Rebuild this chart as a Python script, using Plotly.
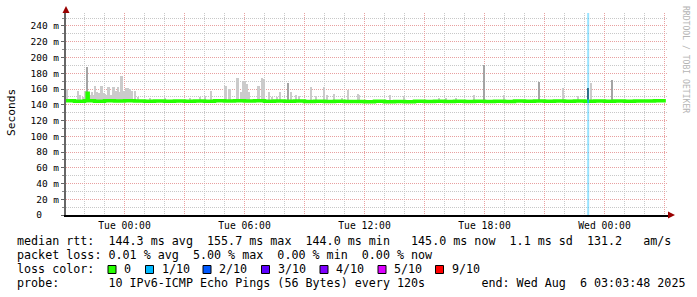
import plotly.graph_objects as go
import pandas as pd

# ---------------- data ----------------
DAY = {"Mon": "2025-08-04", "Tue": "2025-08-05", "Wed": "2025-08-06"}

median_time = ["Mon 21:04", "Mon 21:30", "Mon 22:00", "Mon 22:08", "Mon 22:11", "Mon 22:30",
               "Mon 23:00", "Mon 23:30", "Tue 00:00", "Tue 00:30", "Tue 01:00", "Tue 01:30",
               "Tue 02:00", "Tue 02:30", "Tue 03:00", "Tue 03:30", "Tue 04:00", "Tue 04:30",
               "Tue 05:00", "Tue 05:30", "Tue 06:00", "Tue 06:30", "Tue 07:00", "Tue 07:30",
               "Tue 08:00", "Tue 08:30", "Tue 09:00", "Tue 09:30", "Tue 10:00", "Tue 10:30",
               "Tue 11:00", "Tue 11:30", "Tue 12:00", "Tue 12:30", "Tue 13:00", "Tue 13:30",
               "Tue 14:00", "Tue 14:30", "Tue 15:00", "Tue 15:30", "Tue 16:00", "Tue 16:30",
               "Tue 17:00", "Tue 17:30", "Tue 18:00", "Tue 18:30", "Tue 19:00", "Tue 19:30",
               "Tue 20:00", "Tue 20:30", "Tue 21:00", "Tue 21:30", "Tue 22:00", "Tue 22:30",
               "Tue 23:00", "Tue 23:30", "Wed 00:00", "Wed 00:30", "Wed 01:00", "Wed 01:30",
               "Wed 02:00", "Wed 02:30", "Wed 03:00", "Wed 03:04"]
median_rtt = [145.0, 144.5, 145.0, 154.5, 145.0, 144.5,
              145.0, 144.6, 145.2, 144.6, 144.3, 144.8,
              144.3, 144.6, 144.4, 144.8, 144.5, 145.0,
              144.6, 145.2, 144.8, 145.0, 144.5, 144.8,
              144.3, 144.6, 144.2, 144.5, 144.0, 144.3,
              144.0, 144.2, 143.9, 144.3, 143.8, 144.2,
              143.9, 144.3, 144.0, 144.4, 144.0, 144.3,
              144.1, 144.5, 144.2, 144.4, 144.1, 144.6,
              144.3, 144.7, 144.4, 144.6, 144.3, 144.7,
              144.5, 144.8, 144.5, 144.9, 144.5, 144.8,
              144.6, 145.0, 145.0, 145.0]

smoke_time = ["Mon 21:08", "Mon 21:41", "Mon 21:47", "Mon 21:56", "Mon 22:02", "Mon 22:17",
              "Mon 22:23", "Mon 22:29", "Mon 22:32", "Mon 22:38", "Mon 22:44", "Mon 22:50",
              "Mon 22:53", "Mon 22:59", "Mon 23:02", "Mon 23:05", "Mon 23:11", "Mon 23:14",
              "Mon 23:20", "Mon 23:26", "Mon 23:29", "Mon 23:35", "Mon 23:41", "Mon 23:44",
              "Mon 23:50", "Mon 23:53", "Mon 23:59", "Tue 00:05", "Tue 00:11", "Tue 00:17",
              "Tue 00:23", "Tue 00:32", "Tue 00:41", "Tue 01:17", "Tue 02:02", "Tue 03:17",
              "Tue 03:47", "Tue 04:02", "Tue 04:20", "Tue 05:02", "Tue 05:05", "Tue 05:14",
              "Tue 05:17", "Tue 05:38", "Tue 05:41", "Tue 05:50", "Tue 05:53", "Tue 05:57",
              "Tue 06:00", "Tue 06:05", "Tue 06:08", "Tue 06:13", "Tue 06:41", "Tue 06:44",
              "Tue 06:53", "Tue 06:59", "Tue 07:13", "Tue 07:22", "Tue 07:38", "Tue 07:47",
              "Tue 08:20", "Tue 08:35", "Tue 08:44", "Tue 09:20", "Tue 09:35", "Tue 09:59",
              "Tue 10:08", "Tue 10:28", "Tue 10:53", "Tue 11:11", "Tue 11:41", "Tue 11:44",
              "Tue 13:16", "Tue 13:59", "Tue 15:44", "Tue 16:05", "Tue 16:35", "Tue 17:28",
              "Tue 18:58", "Tue 21:56", "Tue 22:41", "Tue 23:19"]
smoke_max = [160, 157, 152, 150, 158, 153,
             156, 152, 164, 156, 155, 164,
             164, 155, 154, 153, 163, 163,
             152, 163, 163, 157, 163, 156,
             176, 176, 158, 161, 161, 160,
             158, 157, 150, 148, 149, 148,
             150, 151, 157, 164, 164, 160,
             160, 174, 174, 156, 156, 170,
             170, 166, 166, 156, 164, 164,
             174, 172.7, 156, 150, 150, 156,
             156, 152, 151, 163, 151, 163,
             153, 154, 149, 158.7, 154, 153,
             153, 151, 148, 148, 148.6, 153,
             152, 161, 151, 168]

thin_time = ["Mon 22:08", "Tue 08:11", "Tue 17:59", "Tue 20:44", "Wed 00:23"]
thin_max = [188, 168, 190, 169, 171]

dark_time = ["Mon 22:06", "Mon 22:12", "Tue 23:09", "Tue 23:12"]
dark_lo = [144, 146, 144, 144]
dark_hi = [156, 154, 161, 161]

loss_time = ["Tue 23:11"]
loss_seg_time = ["Tue 23:09", "Tue 23:13"]
loss_seg_rtt = [144.5, 144.5]

y_ticks = [0, 20, 40, 60, 80, 100, 120, 140, 160, 180, 200, 220, 240]
y_ticktext = ["0\u00a0\u00a0\u00a0"] + [f"{v} m" for v in y_ticks[1:]]

x_label_times = ["Tue 00:00", "Tue 06:00", "Tue 12:00", "Tue 18:00", "Wed 00:00"]

legend_lines = [
    "median rtt:  144.3 ms avg  155.7 ms max  144.0 ms min   145.0 ms now  1.1 ms sd  131.2   am/s",
    "packet loss: 0.01 % avg  5.00 % max  0.00 % min  0.00 % now",
    "loss color:",
    "probe:       10 IPv6-ICMP Echo Pings (56 Bytes) every 120s        end: Wed Aug  6 03:03:48 2025",
]
loss_labels = ["0", "1/10", "2/10", "3/10", "4/10", "5/10", "9/10"]
loss_colors = ["#26ff00", "#00b8ff", "#0059ff", "#5e00ff", "#7e00ff", "#dd00ff", "#ff0000"]


def ts(s):
    d, hm = s.split()
    return pd.Timestamp(f"{DAY[d]} {hm}")


# ---------------- layout geometry ----------------
W, H = 697, 297
L, R, T, B = 66, 29, 13, 82
PW, PH = W - L - R, H - T - B


def px(x):
    return (x - L) / PW


def py(y):
    return (H - B - y) / PH


FONT = "DejaVu Sans Mono"
x_start = pd.Timestamp("2025-08-04 21:04:30")
x_end = pd.Timestamp("2025-08-06 03:10:30")

fig = go.Figure()

# smoke
fig.add_trace(go.Bar(
    x=[ts(t) for t in smoke_time], base=[144] * len(smoke_max),
    y=[m - 144 for m in smoke_max], width=7 * 60 * 1000,
    marker=dict(color="#cbcbcb", line=dict(width=0)), hoverinfo="skip"))
fig.add_trace(go.Bar(
    x=[ts(t) for t in thin_time], base=[144] * len(thin_max),
    y=[m - 144 for m in thin_max], width=3 * 60 * 1000,
    marker=dict(color="#a4a4a4", line=dict(width=0)), hoverinfo="skip"))
fig.add_trace(go.Bar(
    x=[ts(t) for t in dark_time], base=dark_lo,
    y=[h - l for h, l in zip(dark_hi, dark_lo)], width=3 * 60 * 1000,
    marker=dict(color="#4a4a4a", line=dict(width=0)), hoverinfo="skip"))

# median line
fig.add_trace(go.Scatter(
    x=[ts(t) for t in median_time], y=median_rtt, mode="lines",
    line=dict(color="#26ff00", width=3.5, shape="hv"), hoverinfo="skip"))
fig.add_trace(go.Scatter(
    x=[ts(t) for t in loss_seg_time], y=loss_seg_rtt, mode="lines",
    line=dict(color="#00b8ff", width=3.5), hoverinfo="skip"))

shapes = []
for t in loss_time:
    shapes.append(dict(type="line", xref="x", yref="paper", x0=ts(t), x1=ts(t), y0=0, y1=1,
                       line=dict(color="rgba(0,184,255,0.4)", width=2), layer="above"))

# arrows
ARROW = "#990000"
def tri(points):
    p = " L ".join(f"{px(a)} {py(b)}" for a, b in points)
    return "M " + p + " Z"
shapes.append(dict(type="path", xref="paper", yref="paper",
                   path=tri([(62.5, 13), (69.5, 13), (66, 6)]),
                   fillcolor=ARROW, line=dict(width=0)))
shapes.append(dict(type="path", xref="paper", yref="paper",
                   path=tri([(668, 211.5), (668, 218.5), (675, 215)]),
                   fillcolor=ARROW, line=dict(width=0)))

# loss colour boxes
box_x = [108, 145.5, 203, 261.5, 320, 378, 435.5]
annotations = []
for bx, lab, col in zip(box_x, loss_labels, loss_colors):
    shapes.append(dict(type="rect", xref="paper", yref="paper",
                       x0=px(bx), x1=px(bx + 8), y0=py(273.5), y1=py(265.5),
                       fillcolor=col, line=dict(color="#000000", width=1)))
    annotations.append(dict(xref="paper", yref="paper", x=px(bx + 14), y=py(269),
                            xanchor="left", yanchor="middle", showarrow=False,
                            text=lab, font=dict(family=FONT, size=11.7, color="#000")))

# legend text lines
for i, line in enumerate(legend_lines):
    annotations.append(dict(xref="paper", yref="paper", x=px(15), y=py(241 + 14 * i),
                            xanchor="left", yanchor="middle", showarrow=False,
                            text=line.replace(" ", "\u00a0"),
                            font=dict(family=FONT, size=11.7, color="#000")))

# axis title and watermark
annotations.append(dict(xref="paper", yref="paper", x=px(11), y=py(113),
                        xanchor="center", yanchor="middle", showarrow=False,
                        text="Seconds", textangle=-90,
                        font=dict(family=FONT, size=11.2, color="#000")))
annotations.append(dict(xref="paper", yref="paper", x=px(686), y=py(59),
                        xanchor="center", yanchor="middle", showarrow=False,
                        text="RRDTOOL / TOBI OETIKER", textangle=90,
                        font=dict(family=FONT, size=8.1, color="#b4b4b4")))

major_x = pd.date_range("2025-08-05 00:00", "2025-08-06 03:00", freq="3h")
minor_x = pd.date_range("2025-08-04 22:00", "2025-08-06 03:00", freq="1h")
labels_x = {ts(t): t for t in x_label_times}
major_text = [labels_x.get(t, "") for t in major_x]

MAJ = "#e8a0a0"
MIN = "#c8c8c8"
DASH = "1px,1px"

fig.update_layout(
    width=W, height=H, margin=dict(l=L, r=R, t=T, b=B, pad=0),
    paper_bgcolor="white", plot_bgcolor="white",
    showlegend=False, barmode="overlay", bargap=0,
    font=dict(family=FONT, color="#000"),
    shapes=shapes, annotations=annotations,
    xaxis=dict(
        type="date", range=[x_start, x_end], tickmode="array",
        tickvals=list(major_x), ticktext=major_text,
        showgrid=True, gridcolor=MAJ, griddash=DASH, gridwidth=1,
        minor=dict(tickmode="array", tickvals=list(minor_x), showgrid=True,
                   gridcolor=MIN, griddash=DASH, gridwidth=1),
        showline=True, linecolor="#000", linewidth=2,
        ticks="", tickfont=dict(family=FONT, size=9.7, color="#000"),
        zeroline=False, fixedrange=True),
    yaxis=dict(
        range=[0, 256.5], tickmode="array", tickvals=y_ticks, ticktext=y_ticktext,
        showgrid=True, gridcolor=MAJ, griddash=DASH, gridwidth=1,
        minor=dict(tickmode="linear", tick0=0, dtick=10, showgrid=True,
                   gridcolor=MIN, griddash=DASH, gridwidth=1,
                   ticks="outside", ticklen=2, tickcolor="#888"),
        showline=True, linecolor="#666", linewidth=2,
        ticks="outside", ticklen=3, tickcolor="#666",
        tickfont=dict(family=FONT, size=9.5, color="#000"),
        zeroline=False, fixedrange=True),
)

fig.write_html("out.html", config={"displayModeBar": False})
